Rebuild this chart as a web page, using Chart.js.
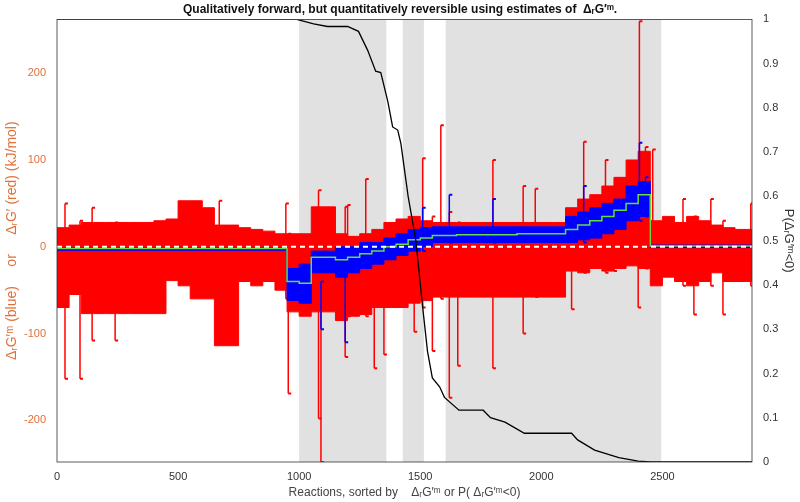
<!DOCTYPE html>
<html><head><meta charset="utf-8">
<script src="https://cdn.jsdelivr.net/npm/chart.js@4"></script>
<style>html,body{margin:0;background:#fff}#w{width:800px;height:502px}</style>
</head><body><div id="w"><canvas id="c"></canvas></div>
<script>
const binX = [0,50,100,150,200,250,300,350,400,450,500,550,600,650,700,750,800,850,900,950,1000,1050,1100,1150,1200,1250,1300,1350,1400,1450,1500,1550,1600,1650,1700,1750,1800,1850,1900,1950,2000,2050,2100,2150,2200,2250,2300,2350,2400,2450,2500,2550,2600,2650,2700,2750,2800,2850];
const redHi = [20,22,25,28,28,28,28,28,28,30,32,53,53,45,25,25,22,20,18,15,15,15,46,46,15,12,15,20,28,32,35,30,28,28,28,28,28,28,28,28,28,28,28,45,55,60,70,80,100,110,30,35,28,35,30,25,22,20];
const redLo = [-60,-70,-55,-77,-77,-77,-77,-77,-77,-77,-39,-45,-60,-60,-114,-114,-40,-45,-40,-50,-75,-80,-75,-75,-85,-80,-78,-70,-70,-70,-65,-62,-58,-58,-58,-58,-58,-58,-58,-58,-58,-58,-58,-28,-30,-25,-28,-25,-22,-25,-45,-35,-40,-45,-40,-30,-40,-40];
const blueHi = [-1,-1,-1,-1,-1,-1,-1,-1,-1,-1,-1,-1,-1,-1,-1,-1,-1,-1,-1,-1,-25,-20,-5,-5,0,0,5,5,10,15,20,22,23,23,23,23,23,23,23,23,23,23,23,35,40,45,50,55,70,75,2,2,2,2,2,2,2,2];
const blueLo = [-4,-4,-4,-4,-4,-4,-4,-4,-4,-4,-4,-4,-4,-4,-4,-4,-4,-4,-4,-4,-62,-65,-30,-30,-35,-30,-25,-20,-15,-10,-5,0,5,5,5,5,5,5,5,5,5,5,5,5,8,10,15,20,30,35,-1,-1,-1,-1,-1,-1,-1,-1];
const greenMid = [-2,-2,-2,-2,-2,-2,-2,-2,-2,-2,-2,-2,-2,-2,-2,-2,-2,-2,-2,-2,-40,-42,-12,-12,-15,-12,-8,-5,0,3,8,10,13,13,14,14,14,14,14,15,15,15,15,20,25,30,35,42,50,60,1,1,1,1,1,1,1,1];
const xEnd = 2870;
const spikeX  = [33,95,145,240,670,945,955,1080,1090,1190,1200,1275,1310,1350,1475,1510,1550,1585,1620,1655,1800,1925,1975,2125,2175,2265,2300,2400,2405,2430,2460,2585,2630,2700,2750,2865];
const spikeLo = [-152,-152,-108,-108,-108,-60,-169,-198,-248,-127,-80,-80,-140,-124,-98,-70,-120,-60,-174,-137,-140,-100,-58,-72,-30,-30,-28,-70,-22,-25,-25,-45,-78,-45,-78,-45];
const spikeHi = [50,30,45,28,53,50,15,65,15,46,48,78,15,20,30,102,35,140,40,28,100,70,67,28,121,100,70,22,260,115,112,55,35,55,30,50];
const blueSpX  = [1090,1190,1510,1620,1800,2175,2405,2430];
const blueSpLo = [-95,-110,-5,5,5,5,30,35];
const blueSpHi = [-40,-5,45,60,55,70,120,80];
const probX = [0,990,1060,1117,1200,1245,1283,1316,1337,1366,1386,1407,1420,1450,1482,1510,1530,1550,1580,1600,1660,1760,1790,1850,1930,2125,2150,2220,2320,2400,2450,2870];
const probY = [1,1,0.99,0.984,0.984,0.973,0.93,0.883,0.88,0.815,0.757,0.75,0.72,0.6,0.5,0.35,0.25,0.19,0.17,0.146,0.117,0.117,0.1,0.09,0.065,0.065,0.05,0.027,0.01,0.002,0,0];
const grayStart = [1000,1428,1605];
const grayEnd = [1360,1515,2495];
const xTicks = [0,500,1000,1500,2000,2500];
const yTicks = [-200,-100,0,100,200];

const step = arr => binX.map((x,i)=>({x, y:arr[i]})).concat([{x:xEnd, y:arr[arr.length-1]}]);
const spikes = (xs,lo,hi) => { const p=[]; xs.forEach((x,i)=>{p.push({x,y:lo[i]},{x,y:hi[i]},{x,y:null});}); return p; };
const orange = '#e0703a';

const grayPlugin = {id:'gray', beforeDatasetsDraw(ch){
  const {ctx, chartArea:a, scales:{x}} = ch;
  ctx.save(); ctx.fillStyle='#e1e1e1';
  grayStart.forEach((s,i)=>{const p0=x.getPixelForValue(s), p1=x.getPixelForValue(grayEnd[i]); ctx.fillRect(p0,a.top,p1-p0,a.bottom-a.top);});
  ctx.restore();
}, afterDraw(ch){
  const {ctx, chartArea:a} = ch; ctx.save(); ctx.strokeStyle='#333'; ctx.lineWidth=0.8; ctx.strokeRect(a.left,a.top,a.right-a.left,a.bottom-a.top); ctx.restore();
}};

new Chart(document.getElementById('c'), {
  type:'line',
  data:{datasets:[
    {label:'redHi', data:step(redHi), stepped:'after', borderColor:'#ff0000', backgroundColor:'#ff0000', borderWidth:1, pointRadius:0, fill:'+1', order:10},
    {label:'redLo', data:step(redLo), stepped:'after', borderColor:'#ff0000', borderWidth:1, pointRadius:0, fill:false, order:10},
    {label:'redSp', data:spikes(spikeX,spikeLo,spikeHi), borderColor:'#ff0000', borderWidth:1.5, pointStyle:'dash', pointRadius:3, pointBorderColor:'#ff0000', pointBorderWidth:2, spanGaps:false, order:9},
    {label:'blueHi', data:step(blueHi), stepped:'after', borderColor:'#0000ff', backgroundColor:'#0000ff', borderWidth:1, pointRadius:0, fill:'+1', order:8},
    {label:'blueLo', data:step(blueLo), stepped:'after', borderColor:'#0000ff', borderWidth:1, pointRadius:0, fill:false, order:8},
    {label:'blueSp', data:spikes(blueSpX,blueSpLo,blueSpHi), borderColor:'#0000ff', borderWidth:1.5, pointStyle:'dash', pointRadius:3, pointBorderColor:'#0000ff', pointBorderWidth:2, spanGaps:false, order:7},
    {label:'green', data:step(greenMid), stepped:'after', borderColor:'#66dd44', borderWidth:1.5, pointRadius:0, fill:false, order:6},
    {label:'zero', data:[{x:0,y:0},{x:xEnd,y:0}], borderColor:'#ffffff', borderDash:[5,4], borderWidth:1.8, pointRadius:0, order:5},
    {label:'prob', data:probX.map((x,i)=>({x,y:probY[i]})), yAxisID:'y1', borderColor:'#000', borderWidth:1.3, pointRadius:0, order:1}
  ]},
  options:{
    responsive:true, maintainAspectRatio:false, animation:false,
    layout:{padding:{top:0,right:0,left:0,bottom:0}},
    plugins:{legend:{display:false}, tooltip:{enabled:false},
      title:{display:true, text:'Qualitatively forward, but quantitatively reversible using estimates of  \u0394\u1D63G\u2032\u1D50.', font:{family:'Liberation Sans', size:12, weight:'bold'}, color:'#111', padding:{top:2,bottom:3}}},
    scales:{
      x:{type:'linear', min:0, max:xEnd, grid:{display:false}, border:{display:false},
        afterBuildTicks:s=>{s.ticks=xTicks.map(v=>({value:v}));},
        afterFit:s=>{s.height=40;},
        ticks:{color:'#333', font:{family:'Liberation Sans', size:11}, padding:0, callback:v=>String(v)},
        title:{display:true, text:'Reactions, sorted by    \u0394\u1D63G\u2032\u1D50 or P( \u0394\u1D63G\u2032\u1D50<0)', color:'#444', font:{family:'Liberation Sans', size:12}, padding:{top:0,bottom:2}}},
      y:{min:-248, max:262, grid:{display:false}, border:{display:false},
        afterBuildTicks:s=>{s.ticks=yTicks.map(v=>({value:v}));},
        afterFit:s=>{s.width=57;},
        ticks:{color:orange, font:{family:'Liberation Sans', size:11}},
        title:{display:true, text:'\u0394\u1D63G\u2032\u1D50 (blue)     or     \u0394\u1D63G\u2032 (red) (kJ/mol)', color:orange, font:{family:'Liberation Sans', size:14}, padding:{bottom:2}}},
      y1:{position:'right', min:0, max:1, grid:{display:false}, border:{display:false},
        afterFit:s=>{s.width=48;},
        ticks:{stepSize:0.1, color:'#333', font:{family:'Liberation Sans', size:11}, callback:v=>+v.toFixed(1)},
        title:{display:true, text:'P(\u0394\u1D63G\u2032\u1D50<0)', color:'#333', font:{family:'Liberation Sans', size:13}}}
    }
  },
  plugins:[grayPlugin]
});
</script></body></html>
